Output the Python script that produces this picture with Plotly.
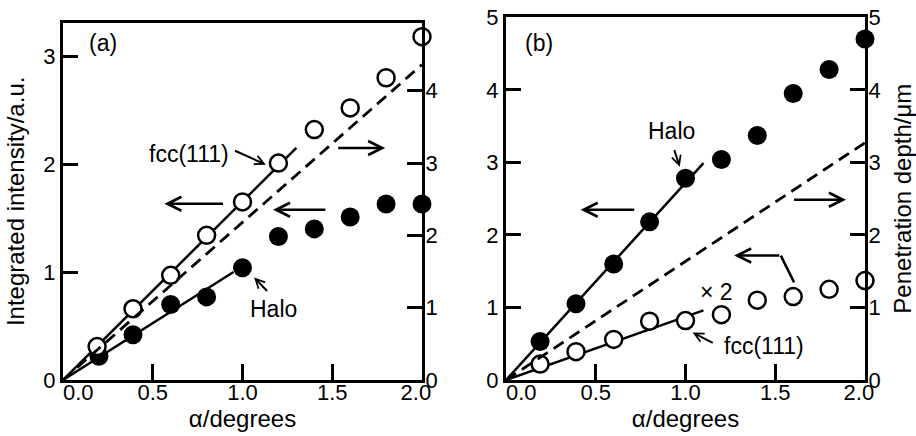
import plotly.graph_objects as go

W, H = 916, 436

# ---------------- data ----------------
alpha = [0.19, 0.39, 0.6, 0.8, 1.0, 1.2, 1.4, 1.6, 1.8, 2.0]
alpha_halo_a = [0.2, 0.39, 0.6, 0.8, 1.0, 1.2, 1.4, 1.6, 1.8, 2.0]

# panel (a)
fcc_a = [0.31, 0.66, 0.97, 1.34, 1.65, 2.01, 2.32, 2.52, 2.80, 3.18]
halo_a = [0.22, 0.42, 0.70, 0.77, 1.04, 1.33, 1.40, 1.51, 1.63, 1.63]
fcc_a_fit_x = [0, 1.3]
fcc_a_fit_y = [0, 2.15]
halo_a_fit_x = [0, 0.95]
halo_a_fit_y = [0, 1.0]
depth_a_x = [0, 2.0]
depth_a_y = [0, 4.36]

# panel (b)
halo_b = [0.53, 1.05, 1.60, 2.18, 2.78, 3.04, 3.37, 3.95, 4.28, 4.70]
fcc_b = [0.22, 0.39, 0.56, 0.81, 0.82, 0.90, 1.10, 1.15, 1.25, 1.37]
halo_b_fit_x = [0, 1.1]
halo_b_fit_y = [0, 2.99]
fcc_b_fit_x = [0, 1.1]
fcc_b_fit_y = [0, 0.96]
depth_b_x = [0, 2.0]
depth_b_y = [0, 3.27]

NB = "\u00a0"
x_ticks = [0.0, 0.5, 1.0, 1.5, 2.0]
x_ticktext = [NB * 5 + "0.0", "0.5", "1.0", "1.5", "2.0" + NB * 2]
ya_ticks = [0, 1, 2, 3]
yr_ticks = [0, 1, 2, 3, 4, 5]

FONT = "Liberation Sans, Arial, sans-serif"
LW = 2.5

fig = go.Figure()

def line(x, y, xa, ya, dash=None, width=LW):
    fig.add_trace(go.Scatter(x=x, y=y, xaxis=xa, yaxis=ya, mode="lines",
                             line=dict(color="black", width=width, dash=dash),
                             showlegend=False, hoverinfo="skip"))

def filled(x, y, xa, ya):
    fig.add_trace(go.Scatter(x=x, y=y, xaxis=xa, yaxis=ya, mode="markers",
                             marker=dict(symbol="circle", size=19, color="black",
                                         line=dict(width=0)),
                             showlegend=False, cliponaxis=False))

def opened(x, y, xa, ya):
    fig.add_trace(go.Scatter(x=x, y=y, xaxis=xa, yaxis=ya, mode="markers",
                             marker=dict(symbol="circle", size=17, color="white",
                                         line=dict(width=2.5, color="black")),
                             showlegend=False, cliponaxis=False))

DASH = "12px,7px"

# panel (a)
line(fcc_a_fit_x, fcc_a_fit_y, "x", "y")
line(halo_a_fit_x, halo_a_fit_y, "x", "y")
filled(alpha_halo_a, halo_a, "x", "y")
opened(alpha, fcc_a, "x", "y")
line(depth_a_x, depth_a_y, "x", "y2", dash=DASH, width=2.8)

# panel (b)
line(halo_b_fit_x, halo_b_fit_y, "x2", "y3")
line(fcc_b_fit_x, fcc_b_fit_y, "x2", "y3")
filled(alpha, halo_b, "x2", "y3")
opened(alpha, fcc_b, "x2", "y3")
line(depth_b_x, depth_b_y, "x2", "y4", dash=DASH, width=2.8)

# ---------------- layout ----------------
tickfont = dict(family=FONT, size=22, color="black")
titlefont = dict(family=FONT, size=24, color="black")

def xax(domain, anchor):
    return dict(domain=domain, anchor=anchor, range=[0, 2.0],
                tickvals=x_ticks, ticktext=x_ticktext, ticks="inside",
                ticklen=16, tickwidth=3, tickcolor="black",
                showline=True, linewidth=3, linecolor="black", mirror=True,
                showgrid=False, zeroline=False, tickfont=tickfont,
                ticklabelstandoff=-9,
                title=dict(text="α/degrees", font=titlefont, standoff=6),
                automargin=False, fixedrange=True)

def yax(domain, anchor, rng, tv, side="left", overlaying=None, title=None,
        standoff=10, lstand=0):
    d = dict(domain=domain, anchor=anchor, range=rng, tickvals=tv,
             ticks="inside", ticklen=15, tickwidth=3, tickcolor="black",
             showline=True, linewidth=3, linecolor="black",
             showgrid=False, zeroline=False, tickfont=tickfont, side=side,
             ticklabelstandoff=lstand,
             automargin=False, fixedrange=True)
    if overlaying:
        d["overlaying"] = overlaying
    if title:
        d["title"] = dict(text=title, font=titlefont, standoff=standoff)
    return d

xa_dom = [63 / W, 422 / W]
xb_dom = [506 / W, 865 / W]
ya_dom = [(H - 380) / H, (H - 22.7) / H]
yb_dom = [(H - 380) / H, (H - 17.3) / H]

fig.update_layout(
    width=W, height=H,
    margin=dict(l=0, r=0, t=0, b=0),
    paper_bgcolor="white", plot_bgcolor="rgba(0,0,0,0)",
    showlegend=False,
    font=dict(family=FONT, color="black"),
    xaxis=xax(xa_dom, "y"),
    yaxis=yax(ya_dom, "x", [0, 3.31], ya_ticks, title="Integrated intensity/a.u.", standoff=12),
    yaxis2=yax(ya_dom, "x", [0, 4.94], yr_ticks, side="right", overlaying="y", lstand=-4),
    xaxis2=xax(xb_dom, "y3"),
    yaxis3=yax(yb_dom, "x2", [0, 5.0], yr_ticks),
    yaxis4=yax(yb_dom, "x2", [0, 5.0], yr_ticks, side="right", overlaying="y3",
               title="Penetration depth/μm", standoff=20, lstand=-4),
)

annfont = dict(family=FONT, size=23, color="black")

def text(x, y, s, xr, yr):
    fig.add_annotation(x=x, y=y, xref=xr, yref=yr, text=s, showarrow=False,
                       font=annfont, xanchor="center", yanchor="middle")

def arrow(x0, y0, x1, y1, xr, yr, size=1.1, width=2.5):
    fig.add_annotation(x=x1, y=y1, ax=x0, ay=y0, xref=xr, yref=yr, axref=xr, ayref=yr,
                       text="", showarrow=True, arrowhead=5, arrowsize=size,
                       arrowwidth=width, arrowcolor="black", standoff=0, startstandoff=0)

# panel (a) annotations
text(0.225, 3.12, "(a)", "x", "y")
text(0.70, 2.09, "fcc(111)", "x", "y")
arrow(0.95, 2.13, 1.13, 1.995, "x", "y", size=0.9, width=2)
text(1.17, 0.655, "Halo", "x", "y")
arrow(1.145, 0.81, 1.065, 0.95, "x", "y", size=0.9, width=2)
arrow(0.90, 1.633, 0.565, 1.633, "x", "y")
arrow(1.47, 1.577, 1.17, 1.577, "x", "y")
arrow(1.525, 2.149, 1.795, 2.149, "x", "y")

# panel (b) annotations
text(0.185, 4.64, "(b)", "x2", "y3")
text(0.92, 3.43, "Halo", "x2", "y3")
arrow(0.935, 3.19, 0.968, 2.94, "x2", "y3", size=0.9, width=2)
text(1.17, 1.22, "× 2", "x2", "y3")
text(1.44, 0.47, "fcc(111)", "x2", "y3")
arrow(1.16, 0.50, 1.04, 0.655, "x2", "y3", size=0.9, width=2)
arrow(0.723, 2.347, 0.416, 2.347, "x2", "y3")
arrow(1.596, 2.485, 1.894, 2.485, "x2", "y3")
fig.add_shape(type="line", xref="x2", yref="y3", x0=1.605, y0=1.346, x1=1.531, y1=1.715,
              line=dict(color="black", width=2.5))
arrow(1.531, 1.715, 1.271, 1.715, "x2", "y3")

fig.write_html("out.html", config={"displayModeBar": False})
